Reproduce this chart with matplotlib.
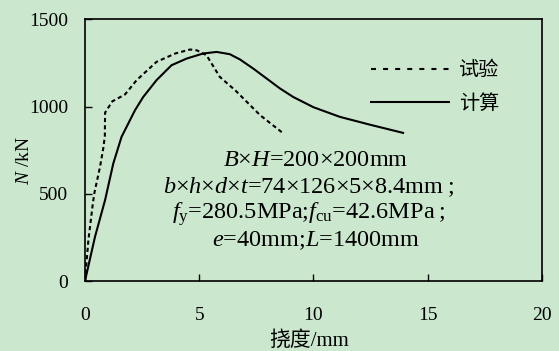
import matplotlib
matplotlib.use("Agg")
import matplotlib.pyplot as plt
from matplotlib.lines import Line2D

plt.rcParams['font.family'] = ['Liberation Serif', 'Noto Sans CJK SC']
plt.rcParams['mathtext.fontset'] = 'custom'
plt.rcParams['mathtext.rm'] = 'Liberation Serif'
plt.rcParams['mathtext.it'] = 'Liberation Serif:italic'

# test curve (dashed)
test_x = [0, 0.15, 0.35, 0.42, 0.66, 0.80, 0.87, 0.88, 1.2, 1.75, 2.26, 3.13, 3.95, 4.6, 4.9,
          5.32, 5.9, 6.6, 7.66, 8.66]
test_N = [0, 235, 450, 510, 655, 760, 830, 965, 1030, 1069, 1151, 1256, 1304, 1327, 1322,
          1294, 1170, 1090, 951, 848]

# calculated curve (solid)
calc_x = [0, 0.44, 0.88, 1.24, 1.6, 2.19, 2.55, 3.13, 3.79, 4.45, 5.17, 5.76, 6.34, 6.78,
          7.36, 8.53, 9.11, 10.0, 11.15, 12.5, 13.92]
calc_N = [0, 254, 464, 674, 826, 979, 1055, 1151, 1237, 1275, 1304, 1313, 1300, 1270,
          1218, 1104, 1055, 996, 941, 895, 849]

x_ticks = [0, 5, 10, 15, 20]
y_ticks = [0, 500, 1000, 1500]

info_lines = [
    r'$B$×$H$=200×200mm',
    r'$b$×$h$×$d$×$t$=74×126×5×8.4mm$\;$;',
    r'$f_\mathrm{y}$=280.5MPa;$f_\mathrm{cu}$=42.6MPa$\;$;',
    r'$e$=40mm;$L$=1400mm',
]

bg = '#cbe8cf'
fig = plt.figure(figsize=(5.59, 3.51), dpi=100, facecolor=bg)
ax = fig.add_axes([0.152, 0.1994, 0.8176, 0.7456])
ax.set_facecolor(bg)

ax.plot(test_x, test_N, color='black', lw=1.5, linestyle=(0, (2, 1.5)))
ax.plot(calc_x, calc_N, color='black', lw=1.5)

ax.set_xlim(0, 20)
ax.set_ylim(0, 1500)
ax.set_xticks(x_ticks)
ax.set_yticks(y_ticks)
ax.tick_params(direction='in', length=5, width=1, labelsize=14)
ax.tick_params(axis='x', pad=19)
ax.tick_params(axis='y', pad=12)
for s in ax.spines.values():
    s.set_linewidth(1.2)

ax.set_xlabel('挠度/mm', fontsize=15)
ax.set_ylabel(r'$N$ /kN', fontsize=14)
ax.xaxis.set_label_coords(0.49, -0.19)
ax.yaxis.set_label_coords(-0.114, 0.462)

handles = [Line2D([], [], color='black', lw=1.5, linestyle=(0, (2.4, 3.4))),
           Line2D([], [], color='black', lw=1.5)]
ax.legend(handles, ['试验', '计算'], loc='upper left', bbox_to_anchor=(0.625, 0.845),
          frameon=False, borderpad=0, borderaxespad=0, handlelength=3.9,
          handletextpad=0.5, labelspacing=0.6, prop={'family': 'Noto Sans CJK SC', 'size': 14.5})

y0 = 0.46
for i, line in enumerate(info_lines):
    xc = 0.49 if line.endswith(';') else 0.505
    ax.text(xc, y0 - i * 0.102, line, transform=ax.transAxes, ha='center',
            va='center', fontsize=17.5)

fig.savefig('out.png', dpi=100, facecolor=bg)
